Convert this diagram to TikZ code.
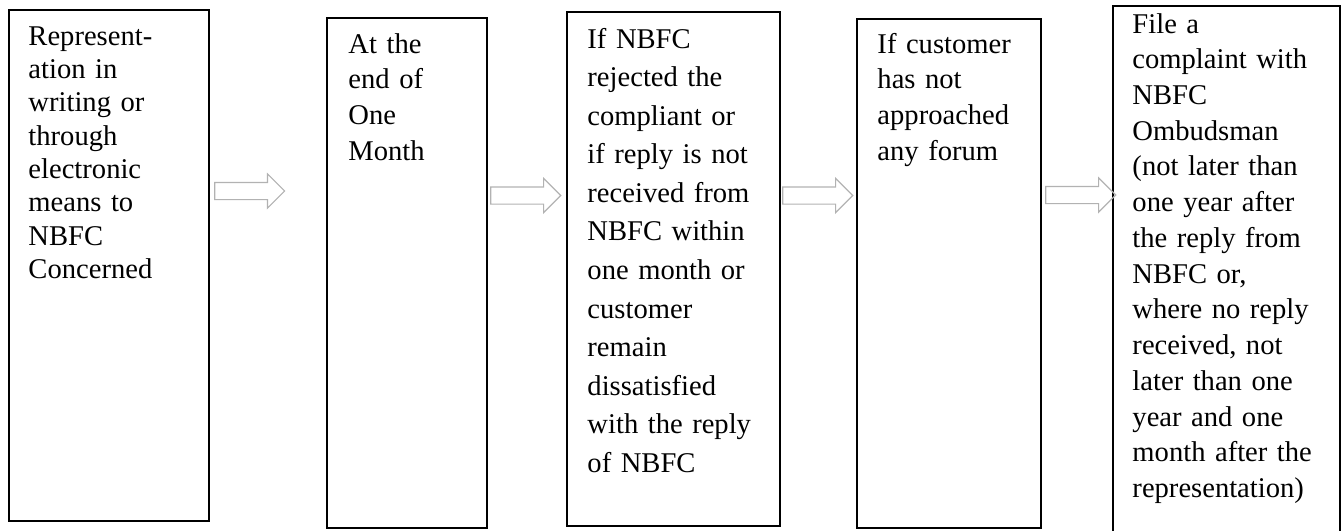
\documentclass[tikz,border=0pt]{standalone}
\usepackage{fontspec}
\setmainfont{Liberation Serif}
\usetikzlibrary{shapes.arrows}

\tikzset{
  stagebox/.style={draw, line width=0.9pt, rectangle, anchor=north west, inner sep=0},
  stagetext/.style={anchor=base west, align=left, inner sep=0, font=\fontsize{12}{15}\selectfont},
  flowarrow/.style={single arrow, draw=gray!60, line width=0.5pt, anchor=tail, inner xsep=0,
    inner ysep=0.118cm, minimum height=1.0325cm, single arrow head extend=0.125cm}
}

\begin{document}
\begin{tikzpicture}[x=0.01475cm, y=-0.01475cm]
\clip (0,0) rectangle (1342,531);

\begin{scope}[every node/.style={stagebox}]
    \node[minimum width=2.950cm, minimum height=7.537cm] (b1) at (8,9) {};
    \node[minimum width=2.360cm, minimum height=7.523cm] (b2) at (326,17) {};
    \node[minimum width=3.142cm, minimum height=7.582cm] (b3) at (566,11) {};
    \node[minimum width=2.714cm, minimum height=7.508cm] (b4) at (856,18) {};
    \node[minimum width=3.348cm, minimum height=7.965cm] (b5) at (1112,5) {};
\end{scope}

\begin{scope}[every node/.style={stagetext}]
    \node[text width=2.7cm, font=\fontsize{12}{14}\selectfont] (t1) at ([shift={(20,36)}]b1.north west)
        {Represent-\\ation in\\writing or\\through\\electronic\\means to\\NBFC\\Concerned};
    \node[text width=2.1cm] (t2) at ([shift={(22,36)}]b2.north west)
        {At the\\end of\\One\\Month};
    \node[text width=2.9cm, font=\fontsize{12}{16.2}\selectfont] (t3) at ([shift={(21,37)}]b3.north west)
        {If NBFC\\rejected the\\compliant or\\if reply is not\\received from\\NBFC within\\one month or\\customer\\remain\\dissatisfied\\with the reply\\of NBFC};
    \node[text width=2.5cm] (t4) at ([shift={(21,35)}]b4.north west)
        {If customer\\has not\\approached\\any forum};
    \node[text width=3.1cm] (t5) at ([shift={(20,28)}]b5.north west)
        {File a\\complaint with\\NBFC\\Ombudsman\\(not later than\\one year after\\the reply from\\NBFC or,\\where no reply\\received, not\\later than one\\year and one\\month after the\\representation)};
\end{scope}

\begin{scope}[every node/.style={flowarrow}]
    \node (a1) at ([shift={(4,182)}]b1.north east) {};
    \node (a2) at ([shift={(2,178.5)}]b2.north east) {};
    \node (a3) at ([shift={(1,184.5)}]b3.north east) {};
    \node (a4) at ([shift={(3,177)}]b4.north east) {};
\end{scope}

\end{tikzpicture}
\end{document}
